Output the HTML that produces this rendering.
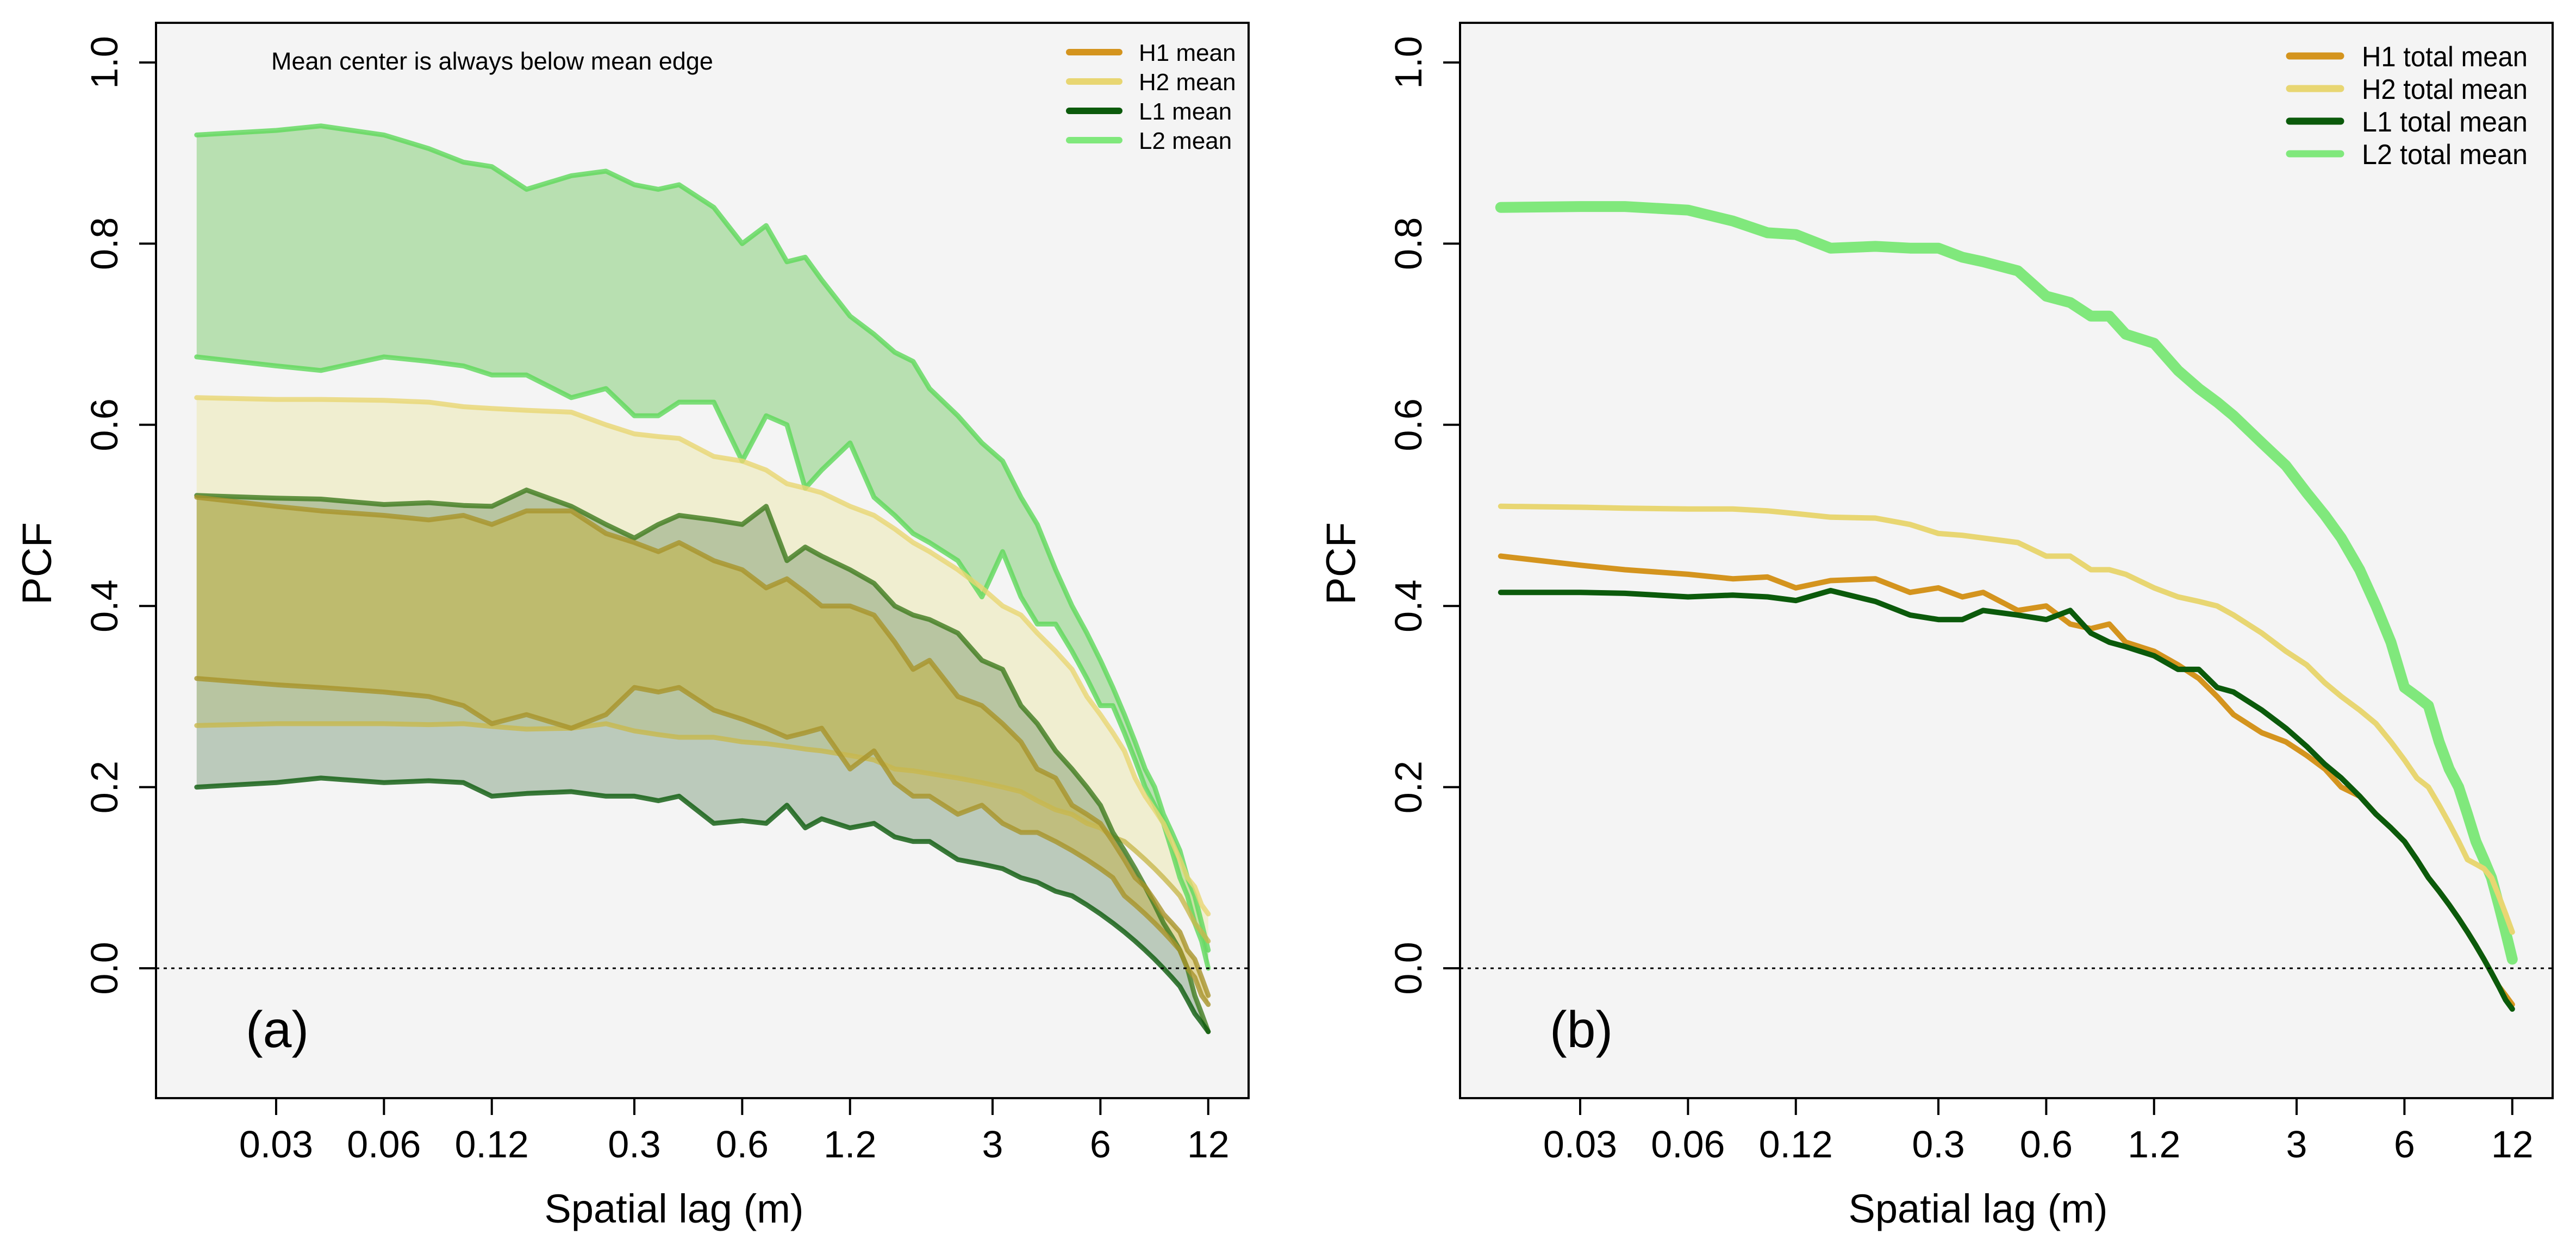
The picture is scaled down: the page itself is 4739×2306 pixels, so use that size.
<!DOCTYPE html>
<html><head><meta charset="utf-8"><style>
html,body{margin:0;padding:0;background:#fff;}
svg{display:block;font-family:"Liberation Sans",Arial,sans-serif;}
</style></head><body>
<svg id="chart" width="4739" height="2306" viewBox="0 0 4739 2306" xmlns="http://www.w3.org/2000/svg">
<rect x="0" y="0" width="4739" height="2306" fill="#ffffff"/>
<g id="panelA"></g>
<g id="panelB"></g>
</svg>
<script>
const lags = [0.018,0.03,0.04,0.06,0.08,0.1,0.12,0.15,0.2,0.25,0.3,0.35,0.4,0.5,0.6,0.7,0.8,0.9,1.0,1.2,1.4,1.6,1.8,2.0,2.4,2.8,3.2,3.6,4.0,4.5,5,5.5,6,6.5,7,7.5,8,8.5,9,9.5,10,10.5,11,11.5,12];
const xTicks = [0.03,0.06,0.12,0.3,0.6,1.2,3,6,12];
const xTickLabels = ["0.03","0.06","0.12","0.3","0.6","1.2","3","6","12"];
const yTicks = [0,0.2,0.4,0.6,0.8,1.0];
const yTickLabels = ["0.0","0.2","0.4","0.6","0.8","1.0"];
// panel (a): band edges
const L2up = [0.92,0.925,0.93,0.92,0.905,0.89,0.885,0.86,0.875,0.88,0.865,0.86,0.865,0.84,0.80,0.82,0.78,0.785,0.76,0.72,0.70,0.68,0.67,0.64,0.61,0.58,0.56,0.52,0.49,0.44,0.40,0.37,0.34,0.31,0.28,0.25,0.22,0.20,0.17,0.15,0.13,0.10,0.08,0.05,0.02];
const L2lo = [0.675,0.665,0.66,0.675,0.67,0.665,0.655,0.655,0.63,0.64,0.61,0.61,0.625,0.625,0.56,0.61,0.60,0.53,0.55,0.58,0.52,0.50,0.48,0.47,0.45,0.41,0.46,0.41,0.38,0.38,0.35,0.32,0.29,0.29,0.26,0.23,0.20,0.18,0.16,0.13,0.10,0.08,0.05,0.03,0.00];
const H2up = [0.63,0.628,0.628,0.627,0.625,0.62,0.618,0.616,0.614,0.60,0.59,0.587,0.585,0.565,0.56,0.55,0.535,0.53,0.525,0.51,0.50,0.485,0.47,0.46,0.44,0.42,0.40,0.39,0.37,0.35,0.33,0.30,0.28,0.26,0.24,0.21,0.19,0.175,0.16,0.14,0.12,0.10,0.09,0.07,0.06];
const H2lo = [0.268,0.27,0.27,0.27,0.269,0.27,0.267,0.264,0.265,0.27,0.262,0.258,0.255,0.255,0.25,0.248,0.245,0.242,0.24,0.235,0.23,0.22,0.218,0.215,0.21,0.205,0.20,0.195,0.185,0.175,0.17,0.16,0.155,0.145,0.14,0.13,0.12,0.11,0.10,0.09,0.08,0.065,0.05,0.04,0.03];
const H1up = [0.52,0.51,0.505,0.50,0.495,0.50,0.49,0.505,0.505,0.48,0.47,0.46,0.47,0.45,0.44,0.42,0.43,0.415,0.40,0.40,0.39,0.36,0.33,0.34,0.30,0.29,0.27,0.25,0.22,0.21,0.18,0.17,0.16,0.14,0.12,0.10,0.09,0.075,0.06,0.05,0.04,0.02,0.01,-0.01,-0.03];
const H1lo = [0.32,0.313,0.31,0.305,0.30,0.29,0.27,0.28,0.265,0.28,0.31,0.305,0.31,0.285,0.275,0.265,0.255,0.26,0.265,0.22,0.24,0.205,0.19,0.19,0.17,0.18,0.16,0.15,0.15,0.14,0.13,0.12,0.11,0.10,0.08,0.07,0.06,0.05,0.04,0.03,0.02,0.00,-0.01,-0.03,-0.04];
const L1up = [0.522,0.519,0.518,0.512,0.514,0.511,0.51,0.528,0.51,0.49,0.475,0.49,0.50,0.495,0.49,0.51,0.45,0.465,0.455,0.44,0.425,0.40,0.39,0.385,0.37,0.34,0.33,0.29,0.27,0.24,0.22,0.20,0.18,0.15,0.13,0.11,0.09,0.07,0.05,0.035,0.02,0.00,-0.03,-0.05,-0.07];
const L1lo = [0.20,0.205,0.21,0.205,0.207,0.205,0.19,0.193,0.195,0.19,0.19,0.185,0.19,0.16,0.163,0.16,0.18,0.155,0.165,0.155,0.16,0.145,0.14,0.14,0.12,0.115,0.11,0.10,0.095,0.085,0.08,0.07,0.06,0.05,0.04,0.03,0.02,0.01,0.00,-0.01,-0.02,-0.035,-0.05,-0.06,-0.07];
// panel (b): total means
const L2t = [0.84,0.841,0.841,0.837,0.825,0.812,0.81,0.795,0.797,0.795,0.795,0.785,0.78,0.77,0.742,0.735,0.72,0.72,0.70,0.69,0.66,0.64,0.625,0.61,0.58,0.555,0.525,0.50,0.475,0.44,0.40,0.36,0.31,0.30,0.29,0.25,0.22,0.20,0.17,0.14,0.12,0.10,0.07,0.04,0.01];
const H2t = [0.51,0.509,0.508,0.507,0.507,0.505,0.502,0.498,0.497,0.49,0.48,0.478,0.475,0.47,0.455,0.455,0.44,0.44,0.435,0.42,0.41,0.405,0.40,0.39,0.37,0.35,0.335,0.315,0.30,0.285,0.27,0.25,0.23,0.21,0.20,0.18,0.16,0.14,0.12,0.115,0.11,0.10,0.08,0.06,0.04];
const H1t = [0.455,0.445,0.44,0.435,0.43,0.432,0.42,0.428,0.43,0.415,0.42,0.41,0.415,0.395,0.40,0.38,0.375,0.38,0.36,0.35,0.335,0.32,0.30,0.28,0.26,0.25,0.235,0.22,0.20,0.19,0.17,0.155,0.14,0.12,0.10,0.085,0.07,0.055,0.04,0.025,0.01,-0.005,-0.02,-0.03,-0.04];
const L1t = [0.415,0.415,0.414,0.41,0.412,0.41,0.406,0.417,0.405,0.39,0.385,0.385,0.395,0.39,0.385,0.395,0.37,0.36,0.355,0.345,0.33,0.33,0.31,0.305,0.285,0.265,0.245,0.225,0.21,0.19,0.17,0.155,0.14,0.12,0.10,0.085,0.07,0.055,0.04,0.025,0.01,-0.005,-0.02,-0.035,-0.045];

const NS = "http://www.w3.org/2000/svg";
const COL = {H1:"#d4941e",H2:"#e8d672",L1:"#0b5a0b",L2:"#80e87c"};
function mk(parent, tag, attrs, text){
  const e = document.createElementNS(NS, tag);
  for (const k in attrs) e.setAttribute(k, attrs[k]);
  if (text !== undefined) e.textContent = text;
  parent.appendChild(e);
  return e;
}
function yScale(v){ return 1782 - 1667*v; }
function makeX(x0){ return function(l){ return x0 + 659*Math.log10(l/0.03); }; }
function linePts(xs, vals){ return lags.map((l,i)=>xs(l).toFixed(1)+","+yScale(vals[i]).toFixed(1)).join(" "); }

function frame(g, left, x03){
  const right = left + 2010;
  const bg = mk(g,"rect",{x:left,y:42,width:2010,height:1979,fill:"#f4f4f4"});
  
  
  const xs = makeX(x03);
  return {xs, left, right};
}
function axes(g, f, letter){
  const {xs,left,right} = f;
  const zero = mk(g,"line",{x1:left,x2:right,y1:yScale(0),y2:yScale(0),stroke:"#000","stroke-width":3,"stroke-dasharray":"6 8"});
  
  
  const box = mk(g,"rect",{x:left,y:42,width:2010,height:1979,fill:"none",stroke:"#000","stroke-width":4});
  
  
  xTicks.forEach((t,i)=>{
    const x = xs(t);
    const tk = mk(g,"line",{x1:x,x2:x,y1:2021,y2:2052,stroke:"#000","stroke-width":4});
    
    
    const lb = mk(g,"text",{x:x,y:2130,"font-size":70,"text-anchor":"middle",fill:"#000"},xTickLabels[i]);
    
    
  });
  yTicks.forEach((t,i)=>{
    const y = yScale(t);
    const tk = mk(g,"line",{x1:left-31,x2:left,y1:y,y2:y,stroke:"#000","stroke-width":4});
    
    
    const lx = left-71;
    const lb = mk(g,"text",{x:lx,y:y,"font-size":70,"text-anchor":"middle",fill:"#000",transform:`rotate(-90 ${lx} ${y})`},yTickLabels[i]);
    
    
  });
  const yt = mk(g,"text",{x:left-193,y:1037,"font-size":76,"text-anchor":"middle",fill:"#000",transform:`rotate(-90 ${left-193} 1037)`},"PCF");
  
  
  const xt = mk(g,"text",{x:left+953,y:2250,"font-size":74,"text-anchor":"middle",fill:"#000"},"Spatial lag (m)");
  
  
  const pl = mk(g,"text",{x:left+165,y:1927,"font-size":95,fill:"#000"},letter);
  
  
}

// ---------- Panel A ----------
const gA = document.getElementById("panelA");
const fA = frame(gA, 287, 508);
const xsA = fA.xs;
function band(g, up, lo, fill, name){
  const pts = lags.map((l,i)=>xsA(l).toFixed(1)+","+yScale(up[i]).toFixed(1));
  const back = lags.map((l,i)=>xsA(l).toFixed(1)+","+yScale(lo[i]).toFixed(1)).reverse();
  const p = mk(g,"polygon",{points:pts.concat(back).join(" "),fill:fill});
  
  
}
band(gA, L2up, L2lo, "rgba(110,200,95,0.45)", "l2-band");
band(gA, H2up, H2lo, "rgba(232,225,140,0.35)", "h2-band");
band(gA, L1up, L1lo, "rgba(40,95,40,0.28)", "l1-band");
band(gA, H1up, H1lo, "rgba(200,170,30,0.38)", "h1-band");
function lineA(vals, color, name){
  const p = mk(gA,"polyline",{points:linePts(xsA, vals),fill:"none",stroke:color,"stroke-width":9,"stroke-linejoin":"round","stroke-linecap":"round","stroke-opacity":0.8});
  
  
}
lineA(L2up,"#5ed85a","l2-edge-line");
lineA(L2lo,"#5ed85a","l2-center-line");
lineA(H2up,COL.H2,"h2-edge-line");
lineA(H2lo,"#c8b84e","h2-center-line");
lineA(L1up,"#3f7a1e","l1-edge-line");
lineA(L1lo,COL.L1,"l1-center-line");
lineA(H1up,"#a8942a","h1-edge-line");
lineA(H1lo,"#a8942a","h1-center-line");
axes(gA, fA, "(a)");
const note = mk(gA,"text",{x:499,y:128,"font-size":45,fill:"#000"},"Mean center is always below mean edge");


const legA = [["H1 mean",COL.H1],["H2 mean",COL.H2],["L1 mean",COL.L1],["L2 mean",COL.L2]];
legA.forEach((d,i)=>{
  const y = 96 + 54*i;
  const ln = mk(gA,"line",{x1:1967,x2:2059,y1:y,y2:y,stroke:d[1],"stroke-width":12,"stroke-linecap":"round"});
  
  
  const tx = mk(gA,"text",{x:2095,y:y+16,"font-size":44,fill:"#000"},d[0]);
  
  
});

// ---------- Panel B ----------
const gB = document.getElementById("panelB");
const fB = frame(gB, 2686, 2907);
const xsB = fB.xs;
function lineB(vals, color, w, name){
  const p = mk(gB,"polyline",{points:linePts(xsB, vals),fill:"none",stroke:color,"stroke-width":w,"stroke-linejoin":"round","stroke-linecap":"round"});
  
  
}
lineB(L2t,COL.L2,20,"l2-total-mean-line");
lineB(H2t,COL.H2,10,"h2-total-mean-line");
lineB(H1t,COL.H1,10,"h1-total-mean-line");
lineB(L1t,COL.L1,10,"l1-total-mean-line");
axes(gB, fB, "(b)");
const legB = [["H1  total mean",COL.H1],["H2  total mean",COL.H2],["L1  total mean",COL.L1],["L2  total mean",COL.L2]];
legB.forEach((d,i)=>{
  const y = 103 + 60*i;
  const ln = mk(gB,"line",{x1:4212,x2:4306,y1:y,y2:y,stroke:d[1],"stroke-width":13,"stroke-linecap":"round"});
  
  
  const tx = mk(gB,"text",{x:4345,y:y+19,"font-size":52,fill:"#000",textLength:305,lengthAdjust:"spacingAndGlyphs","xml:space":"preserve"},d[0]);
  
  
});
</script>
</body></html>
